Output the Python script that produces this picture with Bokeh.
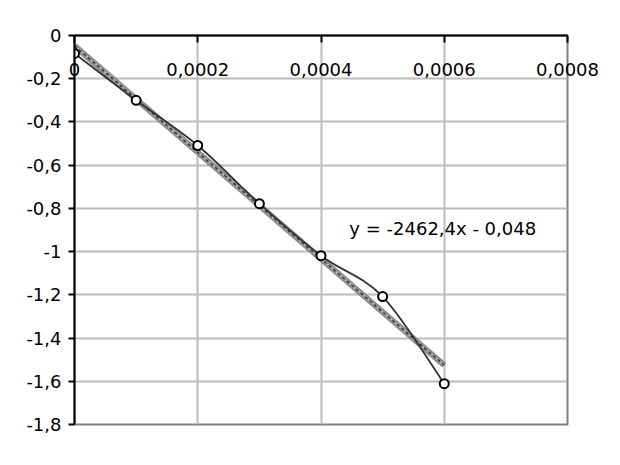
from bokeh.plotting import figure
from bokeh.models import FixedTicker, Range1d, CustomJSTickFormatter, ColumnDataSource
from bokeh.core.properties import value
from bokeh.embed import file_html
from bokeh.resources import INLINE

# ---- data ----
x_vals = [0.0, 0.0001, 0.0002, 0.0003, 0.0004, 0.0005, 0.0006]
y_vals = [-0.083, -0.300, -0.509, -0.778, -1.019, -1.208, -1.611]
trend_slope = -2462.4
trend_intercept = -0.048
trend_x = [0.0, 0.0006]
x_ticks = [0.0, 0.0002, 0.0004, 0.0006, 0.0008]
x_tick_labels = ["0", "0,0002", "0,0004", "0,0006", "0,0008"]
y_ticks = [0.0, -0.2, -0.4, -0.6, -0.8, -1.0, -1.2, -1.4, -1.6, -1.8]
y_tick_labels = ["0", "-0,2", "-0,4", "-0,6", "-0,8", "-1", "-1,2", "-1,4", "-1,6", "-1,8"]
equation = "y = -2462,4x - 0,048"
equation_pos = (0.000446, -0.894)

FONT = "DejaVu Sans"
FS = "18px"

p = figure(width=600, height=445, x_range=Range1d(0, 0.0008), y_range=Range1d(-1.8, 0),
           x_axis_location="above", toolbar_location=None, output_backend="svg",
           min_border_left=74, min_border_top=35, min_border_right=33, min_border_bottom=21)
p.background_fill_color = "white"
p.border_fill_color = "white"
p.outline_line_color = "#808080"
p.outline_line_width = 2

fmt_code = """
for (let i = 0; i < tvals.length; i++) {
  if (Math.abs(tvals[i] - tick) < 1e-9) { return tlabels[i]; }
}
return "";
"""
p.xaxis.ticker = FixedTicker(ticks=x_ticks)
p.xaxis.formatter = CustomJSTickFormatter(args=dict(tvals=x_ticks, tlabels=x_tick_labels), code=fmt_code)
p.yaxis.ticker = FixedTicker(ticks=y_ticks)
p.yaxis.formatter = CustomJSTickFormatter(args=dict(tvals=y_ticks, tlabels=y_tick_labels), code=fmt_code)

for ax in (p.xaxis, p.yaxis):
    ax.axis_line_color = "black"
    ax.axis_line_width = 2
    ax.major_tick_line_color = "black"
    ax.major_tick_line_width = 2
    ax.minor_tick_line_color = None
    ax.major_label_text_font = FONT
    ax.major_label_text_font_size = FS
    ax.major_label_text_color = "black"

p.xaxis.major_tick_in = 7
p.xaxis.major_tick_out = 0
p.xaxis.major_label_standoff = -40
p.yaxis.major_tick_in = 0
p.yaxis.major_tick_out = 6
p.yaxis.major_label_standoff = 7

p.xgrid.ticker = FixedTicker(ticks=x_ticks)
p.ygrid.ticker = FixedTicker(ticks=y_ticks)
p.grid.grid_line_color = "#bcbcbc"
p.grid.grid_line_width = 2

# trend line
trend_y = [trend_slope * x + trend_intercept for x in trend_x]
p.line(trend_x, trend_y, line_color="#8c8c8c", line_width=6)
p.line(trend_x, trend_y, line_color="#cfcfcf", line_width=2, line_dash="1 1")
p.line(trend_x, trend_y, line_color="#333333", line_width=1.5, line_dash="3 3")

# smoothed data line (Catmull-Rom -> Bezier segments computed from the data)
n = len(x_vals)
x0, y0, x1, y1, cx0, cy0, cx1, cy1 = [], [], [], [], [], [], [], []
for i in range(n - 1):
    xa, ya = x_vals[i], y_vals[i]
    xb, yb = x_vals[i + 1], y_vals[i + 1]
    xp, yp = x_vals[max(i - 1, 0)], y_vals[max(i - 1, 0)]
    xn, yn = x_vals[min(i + 2, n - 1)], y_vals[min(i + 2, n - 1)]
    x0.append(xa); y0.append(ya); x1.append(xb); y1.append(yb)
    cx0.append(xa + (xb - xp) / 6); cy0.append(ya + (yb - yp) / 6)
    cx1.append(xb - (xn - xa) / 6); cy1.append(yb - (yn - ya) / 6)
src = ColumnDataSource(dict(x0=x0, y0=y0, x1=x1, y1=y1, cx0=cx0, cy0=cy0, cx1=cx1, cy1=cy1))
p.bezier(x0="x0", y0="y0", x1="x1", y1="y1", cx0="cx0", cy0="cy0", cx1="cx1", cy1="cy1",
         source=src, line_color="#333333", line_width=1.8)

p.scatter(x_vals, y_vals, marker="circle", size=9, line_color="black", line_width=2,
          fill_color="white")

p.text(x=[equation_pos[0]], y=[equation_pos[1]], text=[equation], text_font=value(FONT),
       text_font_size=FS, text_align="left", text_baseline="middle", text_color="black")

open("out.html", "w").write(file_html(p, INLINE))
